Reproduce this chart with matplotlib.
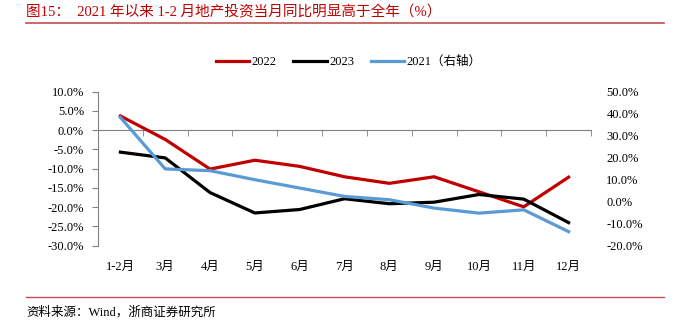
import matplotlib
matplotlib.use("Agg")
import matplotlib.pyplot as plt
from matplotlib.lines import Line2D
from matplotlib.ticker import FixedLocator, FuncFormatter

plt.rcParams['font.family'] = ['Liberation Serif', 'Noto Sans CJK SC']

months = ["1-2月", "3月", "4月", "5月", "6月", "7月", "8月", "9月", "10月", "11月", "12月"]
y2022 = [3.7, -2.4, -10.1, -7.8, -9.4, -12.1, -13.8, -12.1, -16.0, -19.9, -12.2]
y2023 = [-5.7, -7.2, -16.2, -21.5, -20.6, -17.8, -19.1, -18.7, -16.7, -17.9, -24.0]
y2021 = [38.3, 14.9, 14.1, 10.0, 6.2, 2.4, 0.9, -2.9, -5.2, -3.7, -13.6]

RED = '#C00000'
BLUE = '#5B9BD5'
GRAY = '#808080'
RULE = '#C0504D'

fig = plt.figure(figsize=(6.77, 3.26), dpi=100)
ax = fig.add_axes([98 / 677, 1 - 245.7 / 326, (591 - 98) / 677, 154 / 326])
ax2 = ax.twinx()

x = list(range(len(months)))
ax.plot(x, y2022, color=RED, lw=2.3, solid_joinstyle='miter', zorder=3)
ax.plot(x, y2023, color='black', lw=2.3, zorder=3)
ax2.plot(x, y2021, color=BLUE, lw=2.3, zorder=3)

ax.set_xlim(-0.5, len(months) - 0.5)
ax.set_ylim(-30, 10)
ax.set_yticks(range(-30, 11, 5))
ax.yaxis.set_major_formatter(FuncFormatter(lambda v, p: f"{v:.1f}%"))
ax2.set_ylim(-20, 50)
ax2.set_yticks(range(-20, 51, 10))
ax2.yaxis.set_major_formatter(FuncFormatter(lambda v, p: f"{v:.1f}%"))

for s in ['right', 'bottom']:
    ax.spines[s].set_visible(False)
for s in ['right', 'left', 'top', 'bottom']:
    ax2.spines[s].set_visible(False)
ax.spines['left'].set_color(GRAY)
ax.spines['top'].set_position(('data', 0))
ax.spines['top'].set_color(GRAY)

# category labels at bottom, boundary ticks on the zero line
ax.set_xticks(x)
ax.set_xticklabels(months)
ax.tick_params(axis='x', which='major', length=0, pad=11, labelsize=9)
ax.xaxis.set_minor_locator(FixedLocator([i - 0.5 for i in range(len(months) + 1)]))
ax.tick_params(axis='x', which='minor', top=True, bottom=False, direction='in',
               length=4, color=GRAY)
ax.tick_params(axis='y', length=4, color=GRAY, pad=6, labelsize=9)
ax2.tick_params(axis='y', length=0, pad=11, labelsize=9)

handles = [Line2D([], [], color=RED, lw=2.3),
           Line2D([], [], color='black', lw=2.3),
           Line2D([], [], color=BLUE, lw=2.3)]
fig.legend(handles, ["2022", "2023", "2021（右轴）"], loc='center',
           bbox_to_anchor=(0.515, 1 - 62 / 326), ncol=3, frameon=False,
           fontsize=9, handlelength=2.7, handletextpad=0.2, columnspacing=1.3)

fig.text(26 / 677, 1 - 12 / 326, "图15：  2021 年以来 1-2 月地产投资当月同比明显高于全年（%）",
         color=RED, fontsize=10.5, va='center', ha='left')
fig.add_artist(Line2D([26 / 677, 664 / 677], [1 - 23.3 / 326] * 2, color=RULE, lw=1.2))
fig.add_artist(Line2D([26 / 677, 664 / 677], [1 - 296.7 / 326] * 2, color=RULE, lw=1.0))
fig.text(26 / 677, 1 - 312 / 326, "资料来源：Wind，浙商证券研究所",
         fontsize=9, va='center', ha='left')

fig.savefig("out.png", dpi=100)
